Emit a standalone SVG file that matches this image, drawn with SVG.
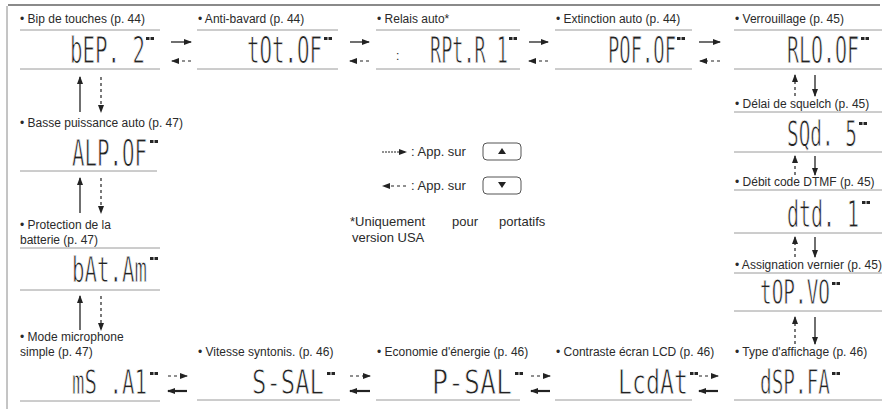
<svg xmlns="http://www.w3.org/2000/svg" width="896" height="409" viewBox="0 0 896 409">
<style>
.lbl{font-family:"Liberation Sans",Arial,sans-serif;font-size:12px;fill:#2a2a2a}
.leg{font-family:"Liberation Sans",Arial,sans-serif;font-size:13px;fill:#2a2a2a}
.lcd{font-family:"DejaVu Sans Mono",monospace;font-size:34px;fill:#222;stroke:#fff;stroke-width:0.9}
.rule{stroke:#9a9a9a;stroke-width:1;fill:none}
.ind{fill:#262626}
.sol{stroke:#222;stroke-width:1.3;fill:none;marker-end:url(#ah)}
.solb{stroke:#222;stroke-width:2.2;fill:none;marker-end:url(#ah)}
.dsh{stroke:#222;stroke-width:1.2;fill:none;stroke-dasharray:3 3;marker-end:url(#ah)}
.key{fill:#fff;stroke:#555;stroke-width:1}
.frame{stroke:#8a8a8a;fill:none}
</style>
<defs>
<marker id="ah" viewBox="0 0 8 6" refX="7" refY="3" markerWidth="8" markerHeight="6" markerUnits="userSpaceOnUse" orient="auto"><path d="M0,0 L8,3 L0,6 z" fill="#222"/></marker>
<g id="ii"><rect x="0" y="0" width="3.5" height="3" class="ind"/><rect x="4.5" y="0" width="3.5" height="3" class="ind"/></g>
</defs>
<rect width="896" height="409" fill="#fff"/>
<line class="frame" x1="8" y1="5" x2="880" y2="5" stroke-width="2"/>
<line class="frame" x1="7" y1="6" x2="7" y2="409" stroke-width="1" stroke="#b0b0b0"/>

<!-- top row -->
<g id="n-bip">
<text class="lbl" x="20" y="23">• Bip de touches (p. 44)</text>
<line class="rule" x1="20" y1="30" x2="160" y2="30"/>
<text class="lcd" transform="translate(70,63) scale(0.611,1.08)">bEP. 2</text>
<use href="#ii" x="146" y="37"/>
<line class="rule" x1="20" y1="69" x2="160" y2="69"/>
</g>
<g id="n-anti">
<text class="lbl" x="198" y="23">• Anti-bavard (p. 44)</text>
<line class="rule" x1="197" y1="30" x2="338" y2="30"/>
<text class="lcd" transform="translate(247,63) scale(0.611,1.08)">tOt.OF</text>
<use href="#ii" x="324" y="37"/>
<line class="rule" x1="197" y1="69" x2="338" y2="69"/>
</g>
<g id="n-relais">
<text class="lbl" x="377" y="23">• Relais auto*</text>
<line class="rule" x1="376" y1="30" x2="520" y2="30"/>
<text class="lbl" x="396" y="60">:</text>
<text class="lcd" transform="translate(430,63) scale(0.544,1.08)">RPt.R 1</text>
<use href="#ii" x="509" y="37"/>
<line class="rule" x1="376" y1="69" x2="520" y2="69"/>
</g>
<g id="n-ext">
<text class="lbl" x="556" y="23">• Extinction auto (p. 44)</text>
<line class="rule" x1="555" y1="30" x2="692" y2="30"/>
<text class="lcd" transform="translate(608,63) scale(0.554,1.08)">POF.OF</text>
<use href="#ii" x="677" y="37"/>
<line class="rule" x1="555" y1="69" x2="692" y2="69"/>
</g>
<g id="n-verr">
<text class="lbl" x="735" y="23">• Verrouillage (p. 45)</text>
<line class="rule" x1="734" y1="30" x2="882" y2="30"/>
<text class="lcd" transform="translate(787,63) scale(0.586,1.08)">RLO.OF</text>
<use href="#ii" x="861" y="37"/>
<line class="rule" x1="734" y1="69" x2="882" y2="69"/>
</g>

<!-- right column -->
<g id="n-squelch">
<text class="lbl" x="735" y="108">• Délai de squelch (p. 45)</text>
<line class="rule" x1="734" y1="112" x2="882" y2="112"/>
<text class="lcd" transform="translate(787,146) scale(0.57,1.02)">SQd. 5</text>
<use href="#ii" x="859" y="122"/>
<line class="rule" x1="734" y1="152" x2="882" y2="152"/>
</g>
<g id="n-dtmf">
<text class="lbl" x="735" y="186">• Débit code DTMF (p. 45)</text>
<line class="rule" x1="734" y1="190" x2="882" y2="190"/>
<text class="lcd" transform="translate(787,227) scale(0.586,1.08)">dtd. 1</text>
<use href="#ii" x="862" y="201"/>
<line class="rule" x1="734" y1="233" x2="882" y2="233"/>
</g>
<g id="n-vernier">
<text class="lbl" x="735" y="269">• Assignation vernier (p. 45)</text>
<line class="rule" x1="734" y1="273" x2="882" y2="273"/>
<text class="lcd" transform="translate(760,304) scale(0.57,1.0)">tOP.VO</text>
<use href="#ii" x="832" y="282"/>
<line class="rule" x1="734" y1="311" x2="882" y2="311"/>
</g>
<g id="n-affichage">
<text class="lbl" x="735" y="356">• Type d'affichage (p. 46)</text>
<text class="lcd" transform="translate(760,394) scale(0.57,1.0)">dSP.FA</text>
<use href="#ii" x="832" y="372"/>
<line class="rule" x1="734" y1="400" x2="882" y2="400"/>
</g>

<!-- bottom row -->
<g id="n-contraste">
<text class="lbl" x="556" y="356">• Contraste écran LCD (p. 46)</text>
<text class="lcd" transform="translate(618,394) scale(0.684,1.0)">LcdAt</text>
<use href="#ii" x="690" y="372"/>
<line class="rule" x1="555" y1="400" x2="692" y2="400"/>
</g>
<g id="n-economie">
<text class="lbl" x="377" y="356">• Economie d'énergie (p. 46)</text>
<text class="lcd" transform="translate(432,394) scale(0.782,1.0)">P-SAL</text>
<use href="#ii" x="515" y="372"/>
<line class="rule" x1="376" y1="400" x2="520" y2="400"/>
</g>
<g id="n-vitesse">
<text class="lbl" x="198" y="356">• Vitesse syntonis. (p. 46)</text>
<text class="lcd" transform="translate(252,394) scale(0.703,1.0)">S-SAL</text>
<use href="#ii" x="327" y="372"/>
<line class="rule" x1="197" y1="400" x2="340" y2="400"/>
</g>

<!-- left column -->
<g id="n-micro">
<text class="lbl" x="20" y="341">• Mode microphone</text>
<text class="lbl" x="20" y="356">simple (p. 47)</text>
<text class="lcd" transform="translate(72,394) scale(0.611,1.0)">mS .A1</text>
<use href="#ii" x="150" y="372"/>
<line class="rule" x1="20" y1="401" x2="160" y2="401"/>
</g>
<g id="n-batterie">
<text class="lbl" x="20" y="229">• Protection de la</text>
<text class="lbl" x="20" y="244">batterie (p. 47)</text>
<line class="rule" x1="20" y1="248" x2="160" y2="248"/>
<text class="lcd" transform="translate(72,282) scale(0.611,1.04)">bAt.Am</text>
<use href="#ii" x="150" y="257"/>
<line class="rule" x1="20" y1="290" x2="160" y2="290"/>
</g>
<g id="n-basse">
<text class="lbl" x="20" y="127">• Basse puissance auto (p. 47)</text>
<text class="lcd" transform="translate(72,166) scale(0.611,1.08)">ALP.OF</text>
<use href="#ii" x="150" y="140"/>
<line class="rule" x1="20" y1="171" x2="157" y2="171"/>
</g>

<!-- legend -->
<g id="legend">
<line x1="382" y1="152" x2="406" y2="152" stroke="#222" stroke-width="1" stroke-dasharray="2 1" marker-end="url(#ah)"/>
<text class="leg" x="411" y="156">: App. sur</text>
<rect class="key" x="483" y="143" width="38" height="17" rx="4"/>
<path d="M498,154 L502,148 L506,154 z" fill="#222"/>
<line x1="406" y1="186" x2="383" y2="186" stroke="#222" stroke-width="1.2" stroke-dasharray="3 3" marker-end="url(#ah)"/>
<text class="leg" x="411" y="190">: App. sur</text>
<rect class="key" x="483" y="177" width="38" height="17" rx="4"/>
<path d="M498,182 L506,182 L502,188 z" fill="#222"/>
<text class="leg" y="226"><tspan x="350">*Uniquement</tspan><tspan x="452">pour</tspan><tspan x="499">portatifs</tspan></text>
<text class="leg" x="352" y="242">version USA</text>
</g>

<g id="connectors">
<line class="sol" x1="171" y1="42" x2="191" y2="42"/>
<line class="dsh" x1="191" y1="61" x2="172" y2="61"/>
<line class="sol" x1="350" y1="42" x2="369" y2="42"/>
<line class="dsh" x1="369" y1="61" x2="350" y2="61"/>
<line class="sol" x1="529" y1="42" x2="548" y2="42"/>
<line class="dsh" x1="548" y1="61" x2="529" y2="61"/>
<line class="sol" x1="699" y1="42" x2="720" y2="42"/>
<line class="dsh" x1="720" y1="61" x2="700" y2="61"/>

<line class="sol" x1="815" y1="75" x2="815" y2="96"/>
<line class="dsh" x1="795" y1="96" x2="795" y2="75"/>
<line class="sol" x1="815" y1="156" x2="815" y2="175"/>
<line class="dsh" x1="795" y1="175" x2="795" y2="156"/>
<line class="sol" x1="815" y1="237" x2="815" y2="257"/>
<line class="dsh" x1="795" y1="257" x2="795" y2="237"/>
<line class="sol" x1="815" y1="317" x2="815" y2="344"/>
<line class="dsh" x1="795" y1="344" x2="795" y2="317"/>

<line class="dsh" x1="168" y1="376" x2="187" y2="376"/>
<line class="solb" x1="187" y1="391" x2="168" y2="391"/>
<line class="dsh" x1="350" y1="376" x2="370" y2="376"/>
<line class="solb" x1="370" y1="391" x2="350" y2="391"/>
<line class="dsh" x1="531" y1="376" x2="550" y2="376"/>
<line class="solb" x1="550" y1="391" x2="531" y2="391"/>
<line class="dsh" x1="699" y1="376" x2="718" y2="376"/>
<line class="solb" x1="718" y1="391" x2="699" y2="391"/>

<line class="sol" x1="80" y1="112" x2="80" y2="77"/>
<line class="dsh" x1="101" y1="77" x2="101" y2="112"/>
<line class="sol" x1="80" y1="213" x2="80" y2="178"/>
<line class="dsh" x1="101" y1="178" x2="101" y2="213"/>
<line class="sol" x1="80" y1="330" x2="80" y2="296"/>
<line class="dsh" x1="101" y1="296" x2="101" y2="330"/>
</g>
</svg>
